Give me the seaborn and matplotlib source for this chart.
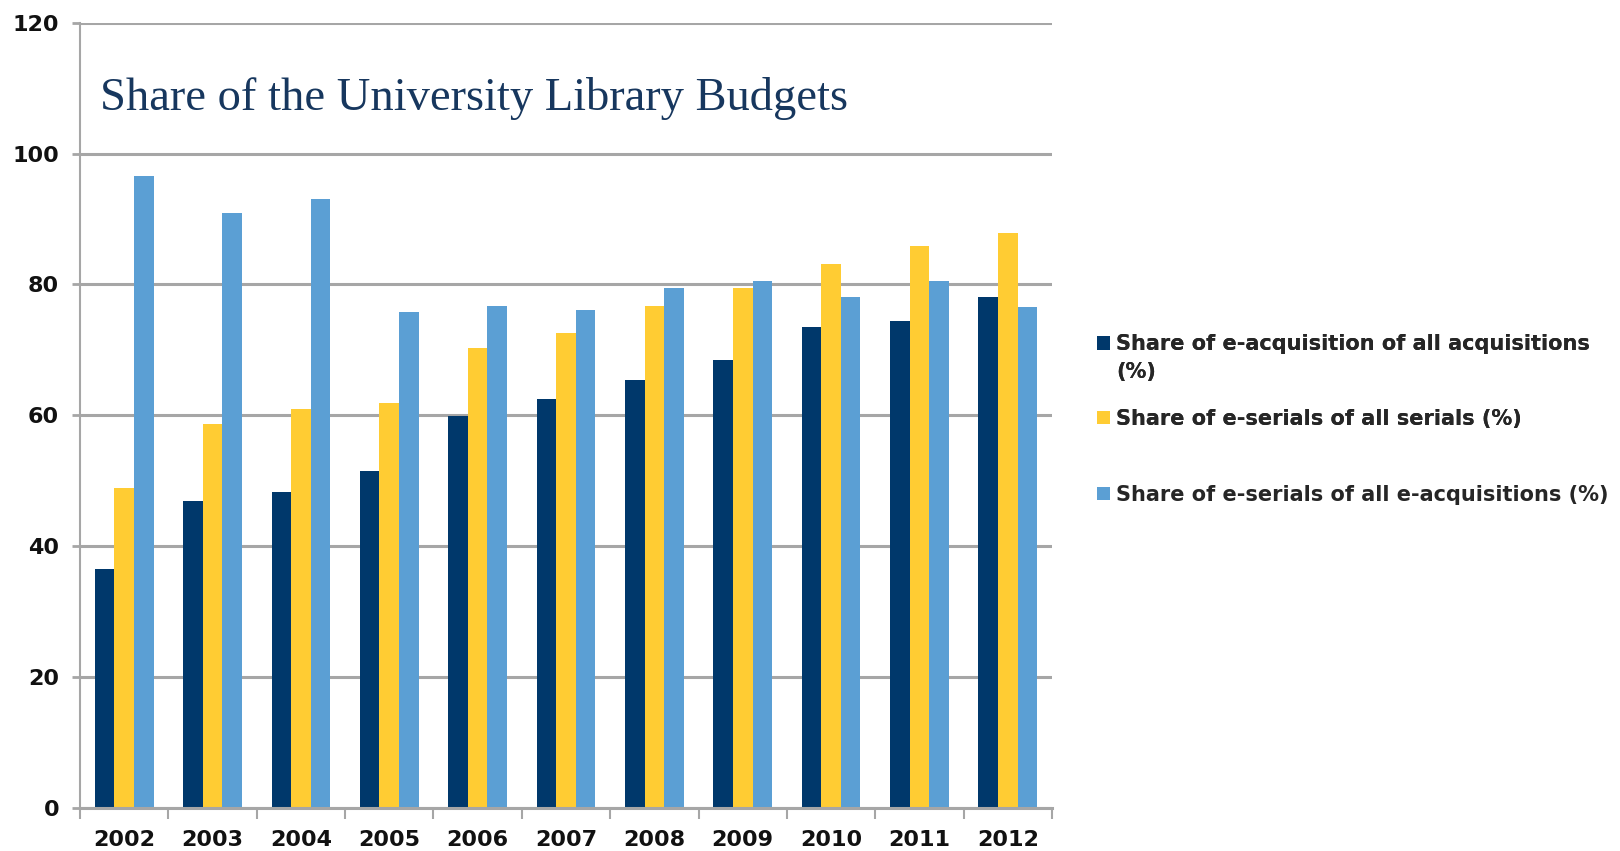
import pandas as pd
import numpy as np
import matplotlib
matplotlib.use("Agg")
import matplotlib.pyplot as plt
import matplotlib.patches as mpatches
from matplotlib.legend_handler import HandlerPatch
import seaborn as sns
from matplotlib.ticker import MultipleLocator, FixedLocator

years = ['2002', '2003', '2004', '2005', '2006', '2007', '2008', '2009', '2010', '2011', '2012']
e_acq_all_acq = [36.5, 46.9, 48.3, 51.4, 59.9, 62.4, 65.3, 68.4, 73.5, 74.4, 78.0]
e_ser_all_ser = [48.8, 58.7, 61.0, 61.8, 70.3, 72.6, 76.7, 79.5, 83.1, 85.9, 87.9]
e_ser_all_eacq = [96.6, 90.9, 93.1, 75.8, 76.7, 76.1, 79.5, 80.5, 78.0, 80.5, 76.5]

series_names = ['Share of e-acquisition of all acquisitions\n(%)',
                'Share of e-serials of all serials (%)',
                'Share of e-serials of all e-acquisitions (%)']
colors = ['#00386B', '#FFCC33', '#5B9FD4']

df = pd.DataFrame({
    'year': years * 3,
    'value': e_acq_all_acq + e_ser_all_ser + e_ser_all_eacq,
    'series': [series_names[0]] * len(years) + [series_names[1]] * len(years) + [series_names[2]] * len(years),
})

sns.set_style("white")
plt.rcParams['font.family'] = ['DejaVu Sans']

fig = plt.figure(figsize=(16.2, 8.51), dpi=100)
ax = fig.add_axes([80 / 1620, 1 - 807.5 / 851, 972 / 1620, (807.5 - 22.7) / 851])

sns.barplot(data=df, x='year', y='value', hue='series', palette=colors,
            width=0.665, saturation=1, ax=ax, edgecolor='none', legend=False)

ax.set_ylim(0, 120)
ax.set_xlim(-0.5, len(years) - 0.5)
ax.yaxis.set_major_locator(MultipleLocator(20))
ax.grid(axis='y', color='#A6A6A6', linewidth=2.2)
ax.set_axisbelow(True)
ax.set_xlabel('')
ax.set_ylabel('')

for s in ['top', 'right']:
    ax.spines[s].set_visible(False)
ax.spines['left'].set_color('#A6A6A6')
ax.spines['left'].set_linewidth(1.5)
ax.spines['bottom'].set_color('#A6A6A6')
ax.spines['bottom'].set_linewidth(2.2)

# ticks at the category boundaries on x, short outside ticks on y
ax.xaxis.set_minor_locator(FixedLocator(np.arange(-0.5, len(years), 1.0)))
ax.tick_params(axis='x', which='major', length=0, pad=16, labelsize=16)
ax.tick_params(axis='x', which='minor', length=8, width=1.5, color='#A6A6A6', direction='out', bottom=True)
ax.tick_params(axis='y', which='major', length=6, width=2, color='#A6A6A6', left=True, labelsize=16, pad=9)
for lab in ax.get_xticklabels() + ax.get_yticklabels():
    lab.set_fontweight('bold')
    lab.set_color('#111111')

# legend: marker lines up with the first line of a wrapped label
fs = 15
line_sp = 1.5

def top_square(legend, orig_handle, xdescent, ydescent, width, height, fontsize):
    return mpatches.Rectangle((-xdescent, -ydescent + 0.5 * line_sp * fs), width, height)

handles = [mpatches.Patch(facecolor=c, edgecolor='none') for c in colors]
leg_kw = dict(frameon=False, prop={'weight': 'bold', 'size': fs},
              handlelength=0.6, handleheight=0.6, handletextpad=0.3,
              borderpad=0, borderaxespad=0)

leg1 = fig.legend(handles[:2], series_names[:2], loc='upper left',
                  bbox_to_anchor=(1097 / 1620, 1 - 334 / 851),
                  labelspacing=1.3, handler_map={handles[0]: HandlerPatch(patch_func=top_square)},
                  **leg_kw)
leg1.get_texts()[0].set_linespacing(line_sp)
leg2 = fig.legend(handles[2:], series_names[2:], loc='center left',
                  bbox_to_anchor=(1097 / 1620, 1 - 495 / 851), **leg_kw)
fig.add_artist(leg1)

fig.text(100 / 1620, 1 - 99 / 851, 'Share of the University Library Budgets',
         family=['Liberation Serif', 'DejaVu Serif'], fontsize=33.5, color='#17375E',
         va='center', ha='left')

fig.savefig('out.png', dpi=100)
